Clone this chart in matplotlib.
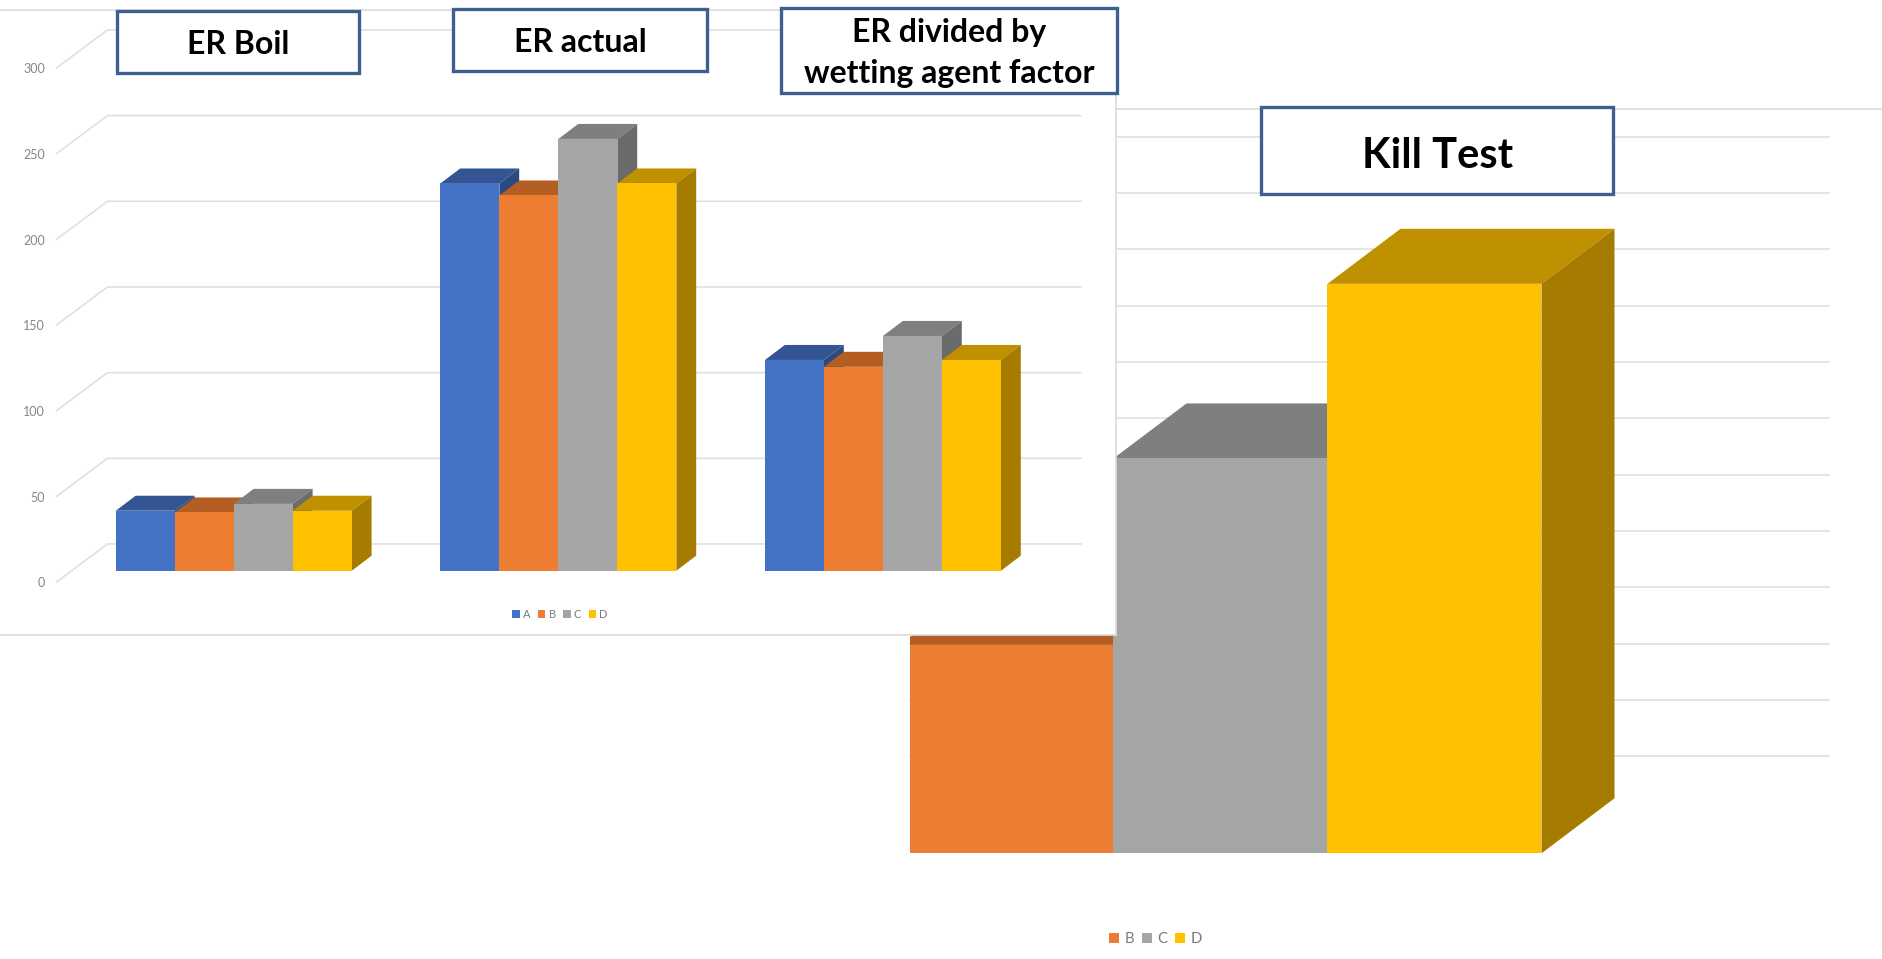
import matplotlib
matplotlib.use("Agg")
from matplotlib import pyplot as plt
from matplotlib.patches import Patch, Polygon, Rectangle
from matplotlib.transforms import Affine2D

plt.rcParams['font.family'] = ['Lato', 'DejaVu Sans']

W, H = 1883, 959

# left chart data
er_groups = ["ER Boil", "ER actual", "ER divided by\nwetting agent factor"]
er_series = ["A", "B", "C", "D"]
er_a = [35, 226, 123]
er_b = [34, 219, 119]
er_c = [39, 252, 137]
er_d = [35, 226, 123]
er_ticks = [0, 50, 100, 150, 200, 250, 300]

# right chart data
kill_series = ["B", "C", "D"]
kill_values = [37.0, 70.1, 101.1]
kill_grid = [17.2, 27.2, 37.2, 47.2, 57.2, 67.2, 77.2, 87.2, 97.2, 107.2, 117.2, 127.2]

colors = {"A": "#4472C4", "B": "#ED7D31", "C": "#A5A5A5", "D": "#FFC000"}
tops = {"A": "#335593", "B": "#B55E23", "C": "#7F7F7F", "D": "#BF9000"}
sides = {"A": "#2C4A7F", "B": "#9A5120", "C": "#6B6B6B", "D": "#A67C00"}
GRID = "#E0E0E0"
BORDER = "#3D6091"

fig = plt.figure(figsize=(W / 100, H / 100), dpi=100, facecolor="white")
# pixel positions measured from the top left corner
px = Affine2D().scale(1 / W, -1 / H).translate(0, 1) + fig.transFigure


def make_axes(left, top, right, bottom, zorder):
    ax = fig.add_axes([left / W, 1 - bottom / H, (right - left) / W, (bottom - top) / H])
    ax.set_zorder(zorder)
    ax.set_xticks([])
    ax.set_yticks([])
    return ax


def bar3d(ax, x, width, value, name, dx, dy, z):
    # top and side faces first, the front goes over them
    l, r = x - width / 2, x + width / 2
    ax.add_patch(Polygon([(l, value), (r, value), (r + dx, value + dy), (l + dx, value + dy)],
                         closed=True, fc=tops[name], ec="none", zorder=z))
    ax.add_patch(Polygon([(r, 0), (r + dx, dy), (r + dx, value + dy), (r, value)],
                         closed=True, fc=sides[name], ec="none", zorder=z))
    ax.bar(x, value, width, color=colors[name], zorder=z + 0.5)


def add_legend(ax, names, cx, cy, size, hw, hh, pad, spacing):
    handles = [Patch(fc=colors[n], ec="none", label=n) for n in names]
    ax.legend(handles=handles, loc="center", bbox_to_anchor=(cx, cy), bbox_transform=px,
              ncol=len(names), frameon=False, fontsize=size, labelcolor="#7A7A7A",
              handlelength=hw, handleheight=hh, handletextpad=pad, columnspacing=spacing,
              borderpad=0, borderaxespad=0)


# Kill Test chart, sits behind the ER panel
ax2 = make_axes(909.8, 108.7, W, H, 1)
k_unit = 214.0
k_scale = 5.633
k_x0 = 1006.5
ax2.set_xlim((909.8 - k_x0) / k_unit, (W - k_x0) / k_unit)
ax2.set_ylim((853.3 - H) / k_scale, (853.3 - 108.7) / k_scale)
for s in ["left", "right", "bottom"]:
    ax2.spines[s].set_visible(False)
ax2.spines["top"].set_color("#DADADA")
ax2.spines["top"].set_linewidth(1.2)
ax2.patch.set_alpha(0)
grid_end = (1829.5 - k_x0) / k_unit
for g in kill_grid:
    ax2.plot([ax2.get_xlim()[0], grid_end], [g, g], color=GRID, lw=1.2, zorder=1, clip_on=False)
for i, (name, v) in enumerate(zip(kill_series, kill_values)):
    bar3d(ax2, i, 1.0, v, name, 73 / k_unit, 55 / k_scale, 2 + i)
add_legend(ax2, kill_series, 1155.5, 939, 10.7, 0.67, 0.72, 0.36, 0.55)

# ER panel on top of it
ax1 = make_axes(0, 9.5, 1116, 634.5, 2)
e_unit = 324.6
e_scale = 1.7134
e_x0 = 233.8
e_base = 570.7
ax1.set_xlim((0 - e_x0) / e_unit, (1116 - e_x0) / e_unit)
ax1.set_ylim((e_base - 634.5) / e_scale, (e_base - 9.5) / e_scale)
ax1.spines["left"].set_visible(False)
for s in ["top", "right", "bottom"]:
    ax1.spines[s].set_color("#DADADA")
    ax1.spines[s].set_linewidth(1.2)

# wall and floor lines, the grid is offset from the bars by the chart depth
back = 15.6
front = -6.6
x_front = (56.5 - e_x0) / e_unit
x_back = (107.5 - e_x0) / e_unit
x_end = (1081 - e_x0) / e_unit
for t in er_ticks:
    ax1.plot([x_front, x_back, x_end], [t + front, t + back, t + back], color=GRID, lw=1.2, zorder=1)
    ax1.text((45 - e_x0) / e_unit, t + front - 0.8, str(t), ha="right", va="center",
             fontsize=9, color="#858585")

bar_w = 59 / e_unit
er_values = [er_a, er_b, er_c, er_d]
for g in range(len(er_groups)):
    for i, name in enumerate(er_series):
        bar3d(ax1, g + (i - 1.5) * bar_w, bar_w, er_values[i][g], name,
              19.8 / e_unit, 15 / e_scale, 2 + i)
add_legend(ax1, er_series, 560, 614, 8, 0.66, 0.72, 0.29, 0.68)

# title boxes
boxes = [
    (117.4, 11, 359, 73),
    (452.7, 8.7, 707.5, 71.3),
    (780.7, 8.3, 1117.5, 92.7),
    (1261, 107.3, 1613.5, 194.3),
]
for left, top, right, bottom in boxes:
    fig.add_artist(Rectangle((left, top), right - left, bottom - top, transform=px,
                             fc="white", ec=BORDER, lw=2.4, zorder=5))

fig.text(238.5, 53.5, er_groups[0], transform=px, ha="center", va="baseline",
         fontsize=23, fontweight="bold", color="black", zorder=6)
fig.text(580, 51.5, er_groups[1], transform=px, ha="center", va="baseline",
         fontsize=23, fontweight="bold", color="black", zorder=6)
line1, line2 = er_groups[2].split("\n")
fig.text(949, 42, line1, transform=px, ha="center", va="baseline",
         fontsize=23, fontweight="bold", color="black", zorder=6)
fig.text(949.5, 82.5, line2, transform=px, ha="center", va="baseline",
         fontsize=23, fontweight="bold", color="black", zorder=6)
fig.text(1438, 168, "Kill Test", transform=px, ha="center", va="baseline",
         fontsize=30, fontweight="bold", color="black", zorder=6)

fig.savefig("out.png", dpi=100)
